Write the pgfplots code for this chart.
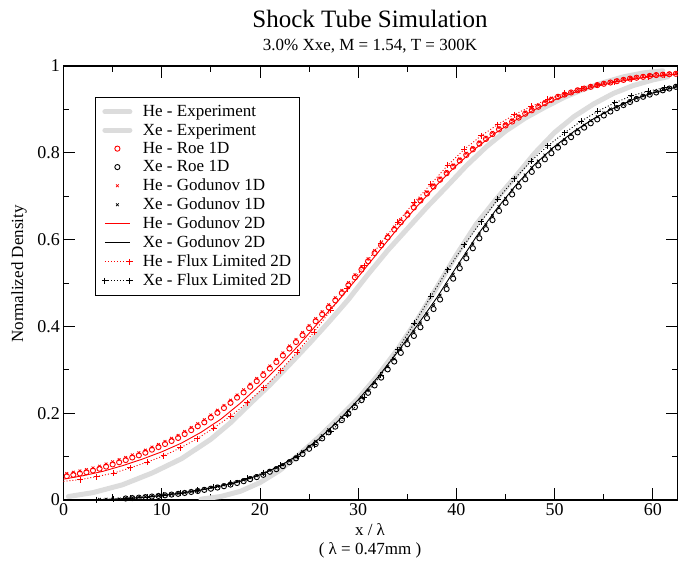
\documentclass[border=0pt]{standalone}
\usepackage{fontspec}
\setmainfont{Liberation Serif}
\usepackage{pgfplots}
\usepackage{pgfplotstable}
\pgfplotsset{compat=1.18}
\definecolor{expgray}{RGB}{220,220,220}
\pgfplotsset{
  mylegend/.style={legend image code/.code={\draw[mark repeat=2,mark phase=2,##1] plot coordinates {(0pt,0pt) (12.5pt,0pt) (25pt,0pt)};}},
  fluxlegend/.style={legend image code/.code={\draw[##1] plot coordinates {(0pt,0pt) (25pt,0pt)};}},
}

% dense 1D results: x, He Roe, He Godunov 1D, Xe Roe, Xe Godunov 1D
\pgfplotstableread{
x heroe hegod xeroe xegod
0.333 0.055 0.061 nan nan
1 0.058 0.064 nan nan
1.667 0.061 0.067 nan nan
2.333 0.064 0.070 nan nan
3 0.068 0.074 nan nan
3.667 0.072 0.078 nan 0.0015
4.333 0.077 0.083 nan 0.0018
5 0.082 0.088 nan 0.002
5.667 0.087 0.093 nan 0.0025
6.333 0.092 0.098 0.0035 0.0045
7 0.098 0.104 0.0045 0.0055
7.667 0.103 0.109 0.0055 0.0065
8.333 0.109 0.115 0.0067 0.0077
9 0.116 0.122 0.008 0.009
9.667 0.122 0.128 0.0093 0.0103
10.333 0.129 0.135 0.0108 0.0118
11 0.136 0.142 0.0125 0.0135
11.667 0.143 0.149 0.0142 0.0152
12.333 0.152 0.158 0.0162 0.0172
13 0.161 0.167 0.0185 0.0195
13.667 0.170 0.176 0.0208 0.0218
14.333 0.179 0.185 0.0233 0.0263
15 0.190 0.196 0.026 0.029
15.667 0.201 0.207 0.0287 0.0317
16.333 0.212 0.218 0.0318 0.0348
17 0.224 0.230 0.0355 0.0385
17.667 0.236 0.242 0.0392 0.0422
18.333 0.248 0.254 0.0433 0.0463
19 0.261 0.267 0.048 0.051
19.667 0.274 0.280 0.0527 0.0557
20.333 0.288 0.294 0.058 0.061
21 0.303 0.309 0.065 0.068
21.667 0.318 0.324 0.071 0.074
22.333 0.333 0.339 0.078 0.081
23 0.349 0.355 0.087 0.090
23.667 0.364 0.370 0.096 0.099
24.333 0.380 0.386 0.106 0.112
25 0.396 0.402 0.118 0.124
25.667 0.412 0.418 0.129 0.135
26.333 0.428 0.434 0.142 0.148
27 0.444 0.450 0.156 0.162
27.667 0.460 0.466 0.169 0.175
28.333 0.477 0.483 0.184 0.190
29 0.495 0.501 0.199 0.205
29.667 0.513 0.519 0.214 0.220
30.333 0.531 0.537 0.230 0.236
31 0.550 0.556 0.247 0.253
31.667 0.569 0.575 0.264 0.270
32.333 0.587 0.593 0.282 0.288
33 0.605 0.611 0.301 0.307
33.667 0.623 0.629 0.319 0.325
34.333 0.640 0.646 0.339 0.349
35 0.657 0.663 0.359 0.369
35.667 0.674 0.680 0.378 0.388
36.333 0.690 0.694 0.398 0.408
37 0.706 0.710 0.419 0.429
37.667 0.722 0.726 0.440 0.450
38.333 0.738 0.742 0.462 0.472
39 0.753 0.757 0.486 0.496
39.667 0.768 0.772 0.510 0.520
40.333 0.782 0.786 0.534 0.544
41 0.795 0.799 0.557 0.567
41.667 0.808 0.812 0.580 0.590
42.333 0.821 0.825 0.603 0.613
43 0.832 0.836 0.624 0.634
43.667 0.843 0.847 0.645 0.655
44.333 0.854 0.858 0.666 0.676
45 0.863 0.867 0.685 0.695
45.667 0.872 0.876 0.704 0.714
46.333 0.881 0.885 0.722 0.732
47 0.890 0.894 0.739 0.749
47.667 0.898 0.902 0.756 0.766
48.333 0.906 0.910 0.771 0.781
49 0.914 0.918 0.785 0.795
49.667 0.922 0.926 0.799 0.809
50.333 0.929 0.931 0.812 0.818
51 0.934 0.936 0.824 0.830
51.667 0.939 0.941 0.836 0.842
52.333 0.944 0.946 0.847 0.853
53 0.948 0.950 0.858 0.864
53.667 0.952 0.954 0.868 0.874
54.333 0.956 0.958 0.877 0.883
55 0.959 0.961 0.886 0.892
55.667 0.962 0.964 0.895 0.901
56.333 0.965 0.967 0.903 0.905
57 0.968 0.970 0.910 0.912
57.667 0.971 0.973 0.917 0.919
58.333 0.973 0.975 0.924 0.926
59 0.975 0.977 0.929 0.931
59.667 0.977 0.979 0.934 0.936
60.333 0.979 0.981 0.939 0.941
61 0.980 0.982 0.944 0.946
61.667 0.981 0.983 0.948 0.950
62.333 0.982 0.984 0.952 0.954
}\onedtable

% Godunov 2D: x, He, Xe
\pgfplotstableread{
x he xe
0 0.048 0.0002
2 0.056 0.0005
4 0.066 0.0012
6 0.079 0.003
8 0.094 0.006
10 0.111 0.010
12 0.131 0.016
14 0.156 0.023
16 0.186 0.032
18 0.223 0.043
20 0.265 0.058
22 0.310 0.078
24 0.358 0.105
26 0.410 0.141
28 0.460 0.183
30 0.514 0.231
32 0.570 0.283
34 0.625 0.341
36 0.677 0.402
38 0.726 0.466
40 0.771 0.537
42 0.811 0.606
44 0.846 0.668
46 0.875 0.724
48 0.900 0.774
50 0.922 0.815
52 0.939 0.850
54 0.952 0.879
56 0.962 0.903
58 0.970 0.923
60 0.976 0.938
62.5 0.981 0.952
}\twodtable

% He flux limited 2D
\pgfplotstableread{
x y
0 0.043
1.7 0.047
3.4 0.054
5.1 0.062
6.8 0.074
8.5 0.087
10.2 0.102
11.9 0.120
13.6 0.141
15.3 0.166
17.0 0.193
18.7 0.224
20.4 0.259
22.1 0.298
23.8 0.341
25.5 0.387
27.2 0.437
28.9 0.487
30.6 0.540
32.3 0.592
34.0 0.640
35.7 0.686
37.4 0.728
39.1 0.771
40.8 0.808
42.5 0.839
44.2 0.865
45.9 0.888
47.6 0.907
49.3 0.923
51.0 0.937
52.7 0.948
54.4 0.957
56.1 0.964
57.8 0.970
59.5 0.975
61.2 0.979
62.5 0.981
}\heflux

% Xe flux limited 2D
\pgfplotstableread{
x y
3.4 0.001
5.1 0.002
6.8 0.004
8.5 0.007
10.2 0.011
11.9 0.016
13.6 0.022
15.3 0.030
17.0 0.039
18.7 0.050
20.4 0.063
22.1 0.080
23.8 0.101
25.5 0.127
27.2 0.158
28.9 0.195
30.6 0.237
32.3 0.288
34.0 0.346
35.7 0.407
37.4 0.469
39.1 0.531
40.8 0.588
42.5 0.641
44.2 0.693
45.9 0.740
47.6 0.781
49.3 0.816
51.0 0.846
52.7 0.873
54.4 0.896
56.1 0.915
57.8 0.931
59.5 0.942
61.2 0.950
62.5 0.954
}\xeflux

% He experiment
\pgfplotstableread{
x y
0.5 0.008
3 0.017
6 0.035
9 0.062
12 0.095
15 0.140
17 0.178
19 0.222
21 0.265
23 0.312
25 0.360
27 0.410
29 0.462
31 0.520
33 0.575
35 0.625
37 0.675
39 0.722
41 0.770
43 0.813
45 0.850
47 0.880
49 0.905
51 0.928
53 0.947
55 0.962
57 0.975
59 0.984
61 0.989
}\heexp

% Xe experiment
\pgfplotstableread{
x y
14 0.002
16 0.008
18 0.020
20 0.040
22 0.068
24 0.105
26 0.145
28 0.189
30 0.234
32 0.287
34 0.347
36 0.415
38 0.490
40 0.565
42 0.635
44 0.692
46 0.745
48 0.800
50 0.847
52 0.884
54 0.913
56 0.937
58 0.955
60 0.968
61.5 0.975
}\xeexp

\begin{document}
\begin{tikzpicture}
\path[use as bounding box] (-63.5pt,-64pt) rectangle (614.5pt,500pt);
\begin{axis}[
  at={(0pt,0pt)}, anchor=south west,
  scale only axis, width=614pt, height=434pt,
  xmin=0, xmax=62.5, ymin=0, ymax=1,
  xtick={0,10,20,30,40,50,60}, minor xtick={5,15,25,35,45,55},
  ytick={0,0.2,0.4,0.6,0.8,1}, minor ytick={0.1,0.3,0.5,0.7,0.9},
  tick align=inside,
  major tick length=12pt, minor tick length=6pt,
  axis line style={line width=1.2pt},
  every tick/.append style={line width=0.9pt, black},
  every minor tick/.append style={line width=0.9pt, black},
  tick label style={font=\fontsize{18}{18}\selectfont},
  yticklabel style={inner xsep=3.5pt},
  /pgf/number format/assume math mode=true,
  mylegend,
  legend style={at={(0.0513,0.9286)}, anchor=north west, draw=black, line width=0.8pt,
    font=\fontsize{17}{17}\selectfont, inner xsep=6.5pt, inner ysep=6pt,
    row sep=1.7pt, column sep=8pt},
  legend cell align=left,
]
\addplot[expgray, line width=5pt, line join=round, line cap=round] table[x=x,y=y] {\heexp};
\addlegendentry{He - Experiment}
\addplot[expgray, line width=5pt, line join=round, line cap=round] table[x=x,y=y] {\xeexp};
\addlegendentry{Xe - Experiment}
\addplot[red, only marks, mark=o, mark size=2.6pt, mark options={line width=0.9pt}] table[x=x,y=heroe] {\onedtable};
\addlegendentry{He - Roe 1D}
\addplot[black, only marks, mark=o, mark size=2.6pt, mark options={line width=0.9pt}] table[x=x,y=xeroe] {\onedtable};
\addlegendentry{Xe - Roe 1D}
\addplot[red, only marks, mark=x, mark size=1.9pt, mark options={line width=0.8pt}] table[x=x,y=hegod] {\onedtable};
\addlegendentry{He - Godunov 1D}
\addplot[black, only marks, mark=x, mark size=1.9pt, mark options={line width=0.8pt}] table[x=x,y=xegod] {\onedtable};
\addlegendentry{Xe - Godunov 1D}
\addplot[red, line width=0.9pt, no marks] table[x=x,y=he] {\twodtable};
\addlegendentry{He - Godunov 2D}
\addplot[black, line width=0.9pt, no marks] table[x=x,y=xe] {\twodtable};
\addlegendentry{Xe - Godunov 2D}
\addplot[red, line width=0.9pt, dash pattern=on 1pt off 2pt, mark=+, mark size=3pt,
  mark options={solid, line width=0.9pt}, mark indices={2,...,37}, fluxlegend] table[x=x,y=y] {\heflux};
\addlegendentry{He - Flux Limited 2D}
\addplot[black, line width=0.9pt, dash pattern=on 1pt off 2pt, mark=+, mark size=3pt,
  mark options={solid, line width=0.9pt}, mark indices={1,...,35}, fluxlegend] table[x=x,y=y] {\xeflux};
\addlegendentry{Xe - Flux Limited 2D}
\end{axis}
\node[anchor=base, font=\fontsize{25}{25}\selectfont] at (306.5pt,472pt) {Shock Tube Simulation};
\node[anchor=base, font=\fontsize{17}{17}\selectfont] at (306.5pt,449pt) {3.0\% Xxe, M = 1.54, T = 300K};
\node[anchor=base, font=\fontsize{17}{17}\selectfont] at (306.5pt,-36pt) {x / λ};
\node[anchor=base, font=\fontsize{17}{17}\selectfont] at (306.5pt,-55pt) {( λ = 0.47mm )};
\node[rotate=90, font=\fontsize{17}{17}\selectfont] at (-44.5pt,226pt) {Normalized Density};
\end{tikzpicture}
\end{document}
